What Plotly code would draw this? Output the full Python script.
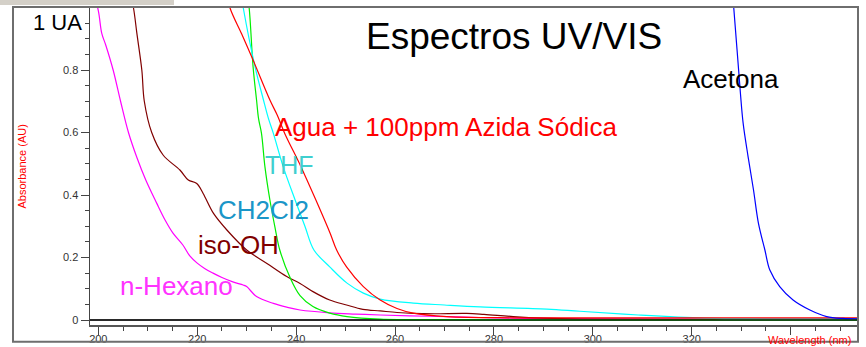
import plotly.graph_objects as go

# ---- data ----
hex_wl = [198.5, 200.0, 200.7, 201.5, 203.0, 204.5, 206.1, 207.8, 209.6, 211.8, 213.5, 215.1, 217.1,
          218.5, 220.0, 221.5, 223.2, 225.0, 227.2, 229.3, 230.0, 232.0, 235.4, 238.1, 240.8, 246.8,
          252.0, 257.0, 263.0, 270.5, 277.0, 283.9, 290.0, 300.0, 320.0, 340.0, 354.0]
hex_abs = [1.08, 0.99, 0.917, 0.88, 0.80, 0.70, 0.60, 0.52, 0.448, 0.374, 0.32, 0.278, 0.24,
           0.205, 0.182, 0.165, 0.150, 0.136, 0.122, 0.112, 0.107, 0.075, 0.053, 0.041, 0.032, 0.023,
           0.019, 0.016, 0.013, 0.011, 0.008, 0.006, 0.005, 0.004, 0.003, 0.003, 0.003]

iso_wl = [206.0, 207.1, 207.8, 208.8, 209.3, 210.8, 213.1, 216.5, 218.2, 219.9, 221.2, 223.3, 226.0,
          230.0, 234.1, 238.1, 240.8, 243.5, 246.8, 250.2, 253.5, 257.0, 260.4, 263.7, 268.0, 274.5,
          278.0, 283.9, 290.0, 297.4, 320.0, 354.0]
iso_abs = [1.08, 1.0, 0.917, 0.80, 0.70, 0.60, 0.528, 0.48, 0.448, 0.437, 0.405, 0.341, 0.288,
           0.224, 0.181, 0.139, 0.117, 0.09, 0.064, 0.048, 0.034, 0.029, 0.024, 0.021, 0.020, 0.021,
           0.018, 0.011, 0.006, 0.003, 0.002, 0.002]

dcm_wl = [229.8, 230.5, 231.3, 232.0, 232.4, 233.0, 233.7, 234.7, 235.7, 236.7, 238.8, 240.8,
          243.4, 246.8, 250.3, 257.0, 270.0, 300.0, 354.0]
dcm_abs = [1.08, 1.0, 0.81, 0.704, 0.645, 0.597, 0.49, 0.384, 0.299, 0.224, 0.135, 0.078,
           0.043, 0.022, 0.011, 0.003, 0.001, 0.0, 0.0]

thf_wl = [228.5, 229.3, 231.7, 233.4, 234.4, 235.4, 237.4, 239.8, 241.8, 243.6, 246.8, 250.3,
          253.6, 257.0, 263.7, 270.0, 277.2, 290.7, 297.4, 309.2, 322.6, 335.0, 354.0]
thf_abs = [1.08, 1.0, 0.81, 0.704, 0.645, 0.597, 0.49, 0.384, 0.299, 0.224, 0.17, 0.118,
           0.086, 0.067, 0.054, 0.048, 0.042, 0.035, 0.028, 0.016, 0.006, 0.004, 0.004]

agua_wl = [225.5, 226.6, 229.0, 231.3, 234.7, 236.2, 237.7, 241.0, 244.0, 246.9, 248.2, 250.2,
           253.6, 257.0, 260.4, 263.7, 270.5, 283.9, 300.0, 354.0]
agua_abs = [1.08, 1.0, 0.915, 0.832, 0.704, 0.655, 0.597, 0.49, 0.384, 0.277, 0.224, 0.17,
            0.107, 0.064, 0.037, 0.022, 0.011, 0.007, 0.007, 0.007]

ace_wl = [327.9, 328.5, 329.8, 330.4, 331.4, 332.5, 333.5, 334.8, 335.8, 337.8, 340.5, 343.9,
          347.3, 350.6, 354.0]
ace_abs = [1.1, 1.0, 0.736, 0.63, 0.523, 0.416, 0.309, 0.224, 0.16, 0.107, 0.064, 0.032,
           0.011, 0.005, 0.004]

base_wl = [198.3, 222.0, 226.0, 230.0, 260.0, 275.0, 290.0, 354.0]
base_abs = [0.0, 0.0, 0.002, 0.0, 0.001, 0.002, 0.001, 0.0]

y_ticks = [0, 0.2, 0.4, 0.6, 0.8]
y_labels = ["0", "0.2", "0.4", "0.6", "0.8"]
x_ticks = [200, 220, 240, 260, 280, 300, 320, 340]
x_labels = ["200", "220", "240", "260", "280", "300", "320", ""]

FONT = "Liberation Sans, Arial, sans-serif"
X_RANGE = [198.32, 353.63]

series = [
    (hex_wl, hex_abs, "#FF00FF"),
    (iso_wl, iso_abs, "#800000"),
    (dcm_wl, dcm_abs, "#00EE00"),
    (thf_wl, thf_abs, "#00FFFF"),
    (agua_wl, agua_abs, "#FF0000"),
    (ace_wl, ace_abs, "#0000FF"),
]

fig = go.Figure()
# baseline drawn on the overlay x-axis (same range) so that axis carries the tick labels
fig.add_trace(go.Scatter(x=base_wl, y=base_abs, mode="lines", xaxis="x2",
                         line=dict(color="#000000", width=1.2), hoverinfo="skip", showlegend=False))
for wl, ab, col in series:
    fig.add_trace(go.Scatter(x=wl, y=ab, mode="lines", line=dict(color=col, width=1.2),
                             line_shape="spline", hoverinfo="skip", showlegend=False))

def px2x(px):
    return 200 + (px - 98.3) / 4.945

def py2y(py):
    return (320 - py) / 312.5

labels = [
    ("Espectros UV/VIS", 514, 36, 37, "#000000"),
    ("Acetona", 731, 78.5, 26, "#000000"),
    ("Agua + 100ppm Azida Sódica", 446, 126.5, 26, "#FF0000"),
    ("THF", 289, 164.5, 25, "#3FCFCF"),
    ("CH2Cl2", 263.5, 209.5, 26, "#1A96C8"),
    ("iso-OH", 238.5, 244.5, 26, "#800000"),
    ("n-Hexano", 176.7, 285.5, 26, "#FF33FF"),
]
annotations = []
for txt, px, py, fs, col in labels:
    annotations.append(dict(text=txt, x=px2x(px), y=py2y(py), xref="x", yref="y",
                            showarrow=False, xanchor="center", yanchor="middle",
                            font=dict(family=FONT, size=fs, color=col)))
annotations.append(dict(text="1 UA", x=(84 - 90) / 768, y=py2y(22), xref="paper", yref="y",
                        showarrow=False, xanchor="right", yanchor="middle",
                        font=dict(family=FONT, size=22, color="#000000")))
annotations.append(dict(text="Absorbance (AU)", x=(21.5 - 90) / 768, y=(325 - 167) / 318,
                        xref="paper", yref="paper", showarrow=False, textangle=-90,
                        xanchor="center", yanchor="middle",
                        font=dict(family=FONT, size=11, color="#FF0000")))
annotations.append(dict(text="Wavelength (nm)", x=(853 - 90) / 768, y=(325 - 340) / 318,
                        xref="paper", yref="paper", showarrow=False,
                        xanchor="right", yanchor="middle",
                        font=dict(family=FONT, size=11, color="#FF0000")))

shapes = [
    # window-like gray strip top left
    dict(type="rect", xref="paper", yref="paper", x0=-0.1172, x1=0.1094, y0=1.0063, y1=1.03,
         fillcolor="#D4D0C8", line=dict(width=0), layer="above"),
    # white strip clipping bottom labels
    dict(type="rect", xref="paper", yref="paper", x0=-0.13, x1=1.02, y0=-0.075, y1=-0.0555,
         fillcolor="#FFFFFF", line=dict(width=0), layer="above"),
    # outer frame
    dict(type="rect", xref="paper", yref="paper", x0=(13 - 90) / 768, x1=1.0,
         y0=(325 - 341.7) / 318, y1=1.0, line=dict(color="#6E6E6E", width=2), layer="above"),
]

fig.update_layout(
    width=866, height=347,
    margin=dict(l=90, r=8, t=7, b=22, autoexpand=False),
    paper_bgcolor="#FFFFFF", plot_bgcolor="#FFFFFF",
    font=dict(family=FONT, size=11, color="#333333"),
    annotations=annotations, shapes=shapes,
    xaxis=dict(range=X_RANGE, tickmode="array", tickvals=x_ticks, showticklabels=False,
               ticks="outside", ticklen=8, tickwidth=1, tickcolor="#444444", automargin=False,
               minor=dict(tickmode="linear", tick0=200, dtick=5, ticklen=4, tickcolor="#444444",
                          ticks="outside", showgrid=False),
               showline=True, linecolor="#555555", linewidth=1.5, showgrid=False, zeroline=False),
    xaxis2=dict(range=X_RANGE, overlaying="x", side="bottom", anchor="y",
                tickmode="array", tickvals=x_ticks, ticktext=x_labels,
                ticks="outside", ticklen=4, tickcolor="rgba(0,0,0,0)", automargin=False,
                showline=False, showgrid=False, zeroline=False,
                tickfont=dict(family=FONT, size=11, color="#333333")),
    yaxis=dict(range=[-0.016, 1.0016], tickmode="array", tickvals=y_ticks, ticktext=y_labels,
               ticks="outside", ticklen=8, tickwidth=1, tickcolor="#444444", automargin=False,
               minor=dict(tickmode="linear", tick0=0, dtick=0.05, ticklen=4, tickcolor="#444444",
                          ticks="outside", showgrid=False),
               showline=True, linecolor="#444444", linewidth=1.5, showgrid=False,
               zeroline=True, zerolinecolor="#555555", zerolinewidth=2,
               tickfont=dict(family=FONT, size=11, color="#333333")),
)

fig.write_html("out.html", config={"displayModeBar": False, "staticPlot": True},
               post_script="document.body.style.margin='0';document.body.style.overflow='hidden';")
